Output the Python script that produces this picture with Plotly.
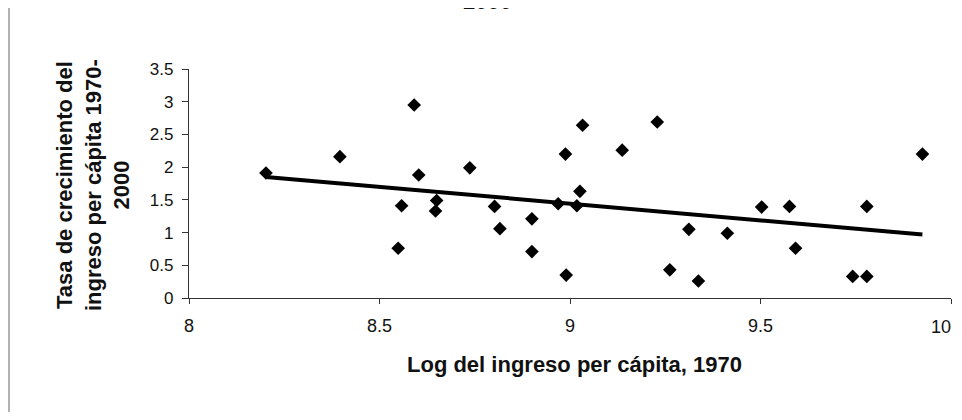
import plotly.graph_objects as go

# Data
log_income_1970 = [8.202, 8.396, 8.591, 8.603, 8.558, 8.549, 8.650, 8.647, 8.737,
                   8.802, 8.816, 8.900, 8.900, 8.969, 8.988, 8.990, 9.018, 9.033,
                   9.026, 9.137, 9.229, 9.262, 9.312, 9.337, 9.413, 9.503, 9.576,
                   9.592, 9.742, 9.779, 9.779, 9.925]
growth_1970_2000 = [1.91, 2.16, 2.95, 1.88, 1.41, 0.76, 1.49, 1.33, 1.99,
                    1.40, 1.06, 1.21, 0.71, 1.44, 2.20, 0.35, 1.41, 2.64,
                    1.63, 2.26, 2.69, 0.43, 1.05, 0.26, 0.99, 1.39, 1.40,
                    0.76, 0.33, 0.33, 1.40, 2.20]
trend_x = [8.202, 9.925]
trend_y = [1.85, 0.97]

x_ticks = [8, 8.5, 9, 9.5, 10]
x_tick_labels = ["8", "8.5", "9", "9.5", "10"]
y_ticks = [0, 0.5, 1, 1.5, 2, 2.5, 3, 3.5]
y_tick_labels = ["0", "0.5", "1", "1.5", "2", "2.5", "3", "3.5"]

FONT = "Arial, Liberation Sans, sans-serif"

# the page body has an 8px margin; keep the page inside the window
O = 8
W, H = 962 - 2 * O, 420 - 2 * O
L, T = 189 - O, 69 - O
R = (O + W) - 951
B = (O + H) - 298
pw, ph = W - L - R, H - T - B


def px(xp):
    return (xp - O - L) / pw


def py(yp):
    return (H - B - (yp - O)) / ph


# last x label sits at the window edge; draw it as text kept inside the page
x_axis_text = x_tick_labels[:-1] + [""]

fig = go.Figure()
fig.add_trace(go.Scatter(
    x=log_income_1970, y=growth_1970_2000, mode="markers",
    marker=dict(symbol="diamond", size=10.5, color="black", line=dict(width=0)),
    showlegend=False, cliponaxis=False))
fig.add_trace(go.Scatter(
    x=trend_x, y=trend_y, mode="lines",
    line=dict(color="black", width=4),
    showlegend=False))

fig.update_layout(
    width=W, height=H,
    margin=dict(l=L, r=R, t=T, b=B, pad=0),
    paper_bgcolor="white", plot_bgcolor="white",
    font=dict(family=FONT, color="#111"),
    xaxis=dict(range=[8, 10], tickvals=x_ticks, ticktext=x_axis_text,
               showgrid=False, zeroline=False, showline=True,
               linecolor="#333", linewidth=1.2, ticks="outside", ticklen=5,
               tickcolor="#333", tickfont=dict(size=18, family=FONT, color="#111"),
               ticklabelstandoff=6, fixedrange=True),
    yaxis=dict(range=[0, 3.5], tickvals=y_ticks, ticktext=y_tick_labels,
               showgrid=False, zeroline=False, showline=True,
               linecolor="#333", linewidth=1.2, ticks="outside", ticklen=6,
               tickcolor="#333", tickfont=dict(size=17, family=FONT, color="#111"),
               ticklabelstandoff=5, fixedrange=True),
    annotations=[
        dict(text=x_tick_labels[-1], xref="paper", yref="paper",
             x=px(O + W - 0.5), y=py(327), xanchor="right", yanchor="middle",
             showarrow=False, font=dict(size=18, family=FONT, color="#111")),
        dict(text="<b>Log del ingreso per cápita, 1970</b>", xref="paper", yref="paper",
             x=px(574), y=py(364), xanchor="center", yanchor="middle",
             showarrow=False, font=dict(size=22, family=FONT, color="#111")),
        dict(text="<b>Tasa de crecimiento del<br>ingreso per cápita 1970-<br>2000</b>",
             xref="paper", yref="paper", textangle=-90,
             x=px(93), y=py(185), xanchor="center", yanchor="middle",
             showarrow=False, font=dict(size=22, family=FONT, color="#111")),
        dict(text="<b>2000</b>", xref="paper", yref="paper",
             x=px(487), y=py(16), xanchor="center", yanchor="bottom",
             showarrow=False, font=dict(size=22, family=FONT, color="#111")),
    ],
    shapes=[
        dict(type="line", xref="paper", yref="paper",
             x0=px(9), x1=px(9), y0=py(O + H), y1=py(O),
             line=dict(color="#999", width=1.5)),
    ],
)

fig.write_html("out.html")
